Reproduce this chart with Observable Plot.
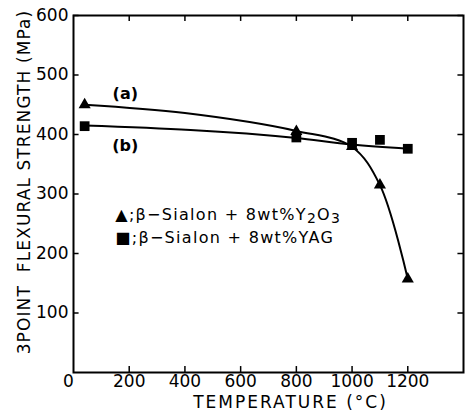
<!DOCTYPE html>
<html><head><meta charset="utf-8">
<script src="https://cdn.jsdelivr.net/npm/d3@7"></script>
<script src="https://cdn.jsdelivr.net/npm/@observablehq/plot@0.6"></script>
<style>body{margin:0;background:#fff}</style>
</head><body><div id="chart"></div>
<script>
// Series (a): beta-Sialon + 8wt% Y2O3 (triangles)
const tempA = [40, 800, 1000, 1100, 1200];
const strengthA = [450, 405, 380, 315, 157];
// Series (b): beta-Sialon + 8wt% YAG (squares)
const tempB = [40, 800, 1000, 1100, 1200];
const strengthB = [414, 395, 386, 391, 376];
// Hand-drawn fit lines
const fitTempA = [40, 400, 800, 1000, 1100, 1200];
const fitStrengthA = [450, 436, 406, 379, 315, 157];
const fitTempB = [40, 800, 1000, 1200];
const fitStrengthB = [415, 394, 383, 376];

const xTicks = [0, 200, 400, 600, 800, 1000, 1200];
const yTicks = [100, 200, 300, 400, 500, 600];
const xLabel = "TEMPERATURE (°C)";
const yLabel = "3POINT  FLEXURAL STRENGTH (MPa)";
const legendLines = ["▲;β−Sialon + 8wt%Y2O3", "■;β−Sialon + 8wt%YAG"];
const legendTemp = [150, 150];
const legendStrength = [265, 227];
const seriesLabels = ["(a)", "(b)"];
const seriesLabelTemp = [186, 186];
const seriesLabelStrength = [468, 381];

const A = tempA.map((t, i) => ({t, s: strengthA[i]}));
const B = tempB.map((t, i) => ({t, s: strengthB[i]}));
const fitA = fitTempA.map((t, i) => ({t, s: fitStrengthA[i]}));
const fitB = fitTempB.map((t, i) => ({t, s: fitStrengthB[i]}));

const plot = Plot.plot({
  width: 471, height: 417,
  marginLeft: 73, marginTop: 15, marginRight: 8, marginBottom: 45,
  style: {fontFamily: "DejaVu Sans", fontSize: "17px", color: "black", background: "white"},
  x: {domain: [0, 1400]},
  y: {domain: [0, 600]},
  marks: [
    Plot.frame({strokeWidth: 2}),
    Plot.axisX({ticks: xTicks, tickSize: 0, tickPadding: 2, label: null, fontSize: 17, tickFormat: d => String(d)}),
    Plot.axisY({ticks: yTicks, tickSize: 0, tickPadding: 5, label: null, fontSize: 17}),
    // inward ticks on all four sides
    Plot.ruleX(xTicks.filter(d => d > 0), {y1: 0, y2: 10, strokeWidth: 1.5}),
    Plot.ruleX(xTicks.filter(d => d > 0), {y1: 590, y2: 600, strokeWidth: 1.5}),
    Plot.ruleY(yTicks, {x1: 0, x2: 20, strokeWidth: 1.5}),
    Plot.ruleY(yTicks, {x1: 1380, x2: 1400, strokeWidth: 1.5}),
    Plot.line(fitA, {x: "t", y: "s", curve: "catmull-rom", strokeWidth: 2}),
    Plot.line(fitB, {x: "t", y: "s", curve: "monotone-x", strokeWidth: 2}),
    Plot.dot(A, {x: "t", y: "s", symbol: "triangle", r: 4.5, fill: "black"}),
    Plot.dot(B, {x: "t", y: "s", symbol: "square", r: 5.5, fill: "black"}),
    Plot.text(seriesLabels, {x: seriesLabelTemp, y: seriesLabelStrength, text: d => d, fontSize: 16, fontWeight: "bold"}),
    Plot.text(legendLines, {x: legendTemp, y: legendStrength, text: d => d, textAnchor: "start", fontSize: 16}),
    Plot.text([xLabel], {frameAnchor: "bottom", textAnchor: "middle", dx: 22, dy: 35, text: d => d, fontSize: 17}),
    Plot.text([yLabel], {frameAnchor: "left", textAnchor: "middle", rotate: -90, dx: -49, dy: -12, text: d => d, fontSize: 17})
  ]
});
document.getElementById("chart").appendChild(plot);

const svg = d3.select(plot);
svg.selectAll("text").each(function() {
  const el = this;
  const txt = el.textContent;
  if (txt === xLabel) el.style.letterSpacing = "2px";
  if (txt.includes("Sialon")) el.style.letterSpacing = "1.3px";
  if (txt === yLabel) el.style.letterSpacing = "1.1px";
  if (txt.includes("Y2O3")) {
    const parts = [["▲;β−Sialon + 8wt%Y", 0], ["2", 1], ["O", 0], ["3", 1]];
    const target = el.querySelector("tspan") || el;
    target.textContent = "";
    let shifted = false;
    parts.forEach(([s, sub]) => {
      const ts = document.createElementNS("http://www.w3.org/2000/svg", "tspan");
      ts.textContent = s;
      if (sub && !shifted) { ts.setAttribute("dy", "3"); shifted = true; }
      else if (!sub && shifted) { ts.setAttribute("dy", "-3"); shifted = false; }
      if (sub) ts.setAttribute("font-size", "14");
      target.appendChild(ts);
    });
  }
});
// the corner "0" sits slightly left of the axis origin in the reference
svg.selectAll('g[aria-label="x-axis tick label"] text').each(function() {
  if (this.textContent === "0") this.setAttribute("dx", "-5");
});
</script>
</body></html>
